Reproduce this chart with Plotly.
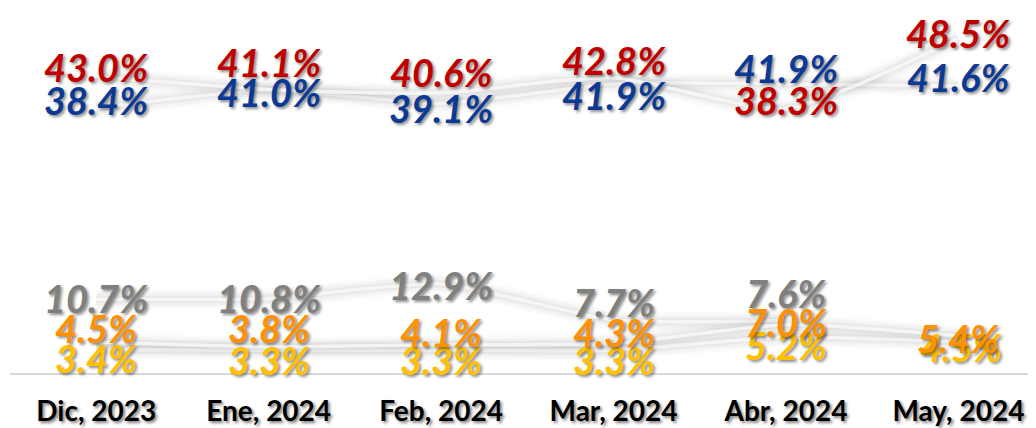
import plotly.graph_objects as go

categories = ["Dic, 2023", "Ene, 2024", "Feb, 2024", "Mar, 2024", "Abr, 2024", "May, 2024"]
red_vals = [43.0, 41.1, 40.6, 42.8, 38.3, 48.5]
blue_vals = [38.4, 41.0, 39.1, 41.9, 41.9, 41.6]
gray_vals = [10.7, 10.8, 12.9, 7.7, 7.6, None]
orange_vals = [4.5, 3.8, 4.1, 4.3, 7.0, 5.4]
yellow_vals = [3.4, 3.3, 3.3, 3.3, 5.2, 4.5]

# label placement (pixel shifts relative to the data point)
red_shift = [9, 27, 21, 18, 9, 5]
blue_shift = [8, -2, -5, -11, 16, 9]
gray_shift = [1, 0, -1, 18, 28, 0]
orange_shift = [14, 19, 13, 11, 3, -2]
yellow_shift = [-8, -10, -10, -10, -8, -5]
yellow_xshift = [0, 0, 0, 0, 0, 3]

series = [
    ("blue", blue_vals, "#0B3A96", blue_shift, None),
    ("red", red_vals, "#C00000", red_shift, None),
    ("gray", gray_vals, "#808080", gray_shift, None),
    ("yellow", yellow_vals, "#FFC000", yellow_shift, yellow_xshift),
    ("orange", orange_vals, "#FF9000", orange_shift, None),
]

fig = go.Figure()

# soft, blurred whitish lines
for name, vals, col, _, _ in series:
    for w, c in [(20, "rgba(0,0,0,0.015)"), (15, "rgba(0,0,0,0.02)"),
                 (11, "rgba(0,0,0,0.025)"), (7, "rgba(0,0,0,0.03)"),
                 (3.5, "rgba(248,248,248,0.85)")]:
        fig.add_trace(go.Scatter(
            x=categories, y=vals, mode="lines",
            line=dict(color=c, width=w, shape="spline", smoothing=0.6),
            hoverinfo="skip", showlegend=False, connectgaps=False,
        ))

label_font = dict(family="Lato", size=38, weight="bold", style="italic",
                  shadow="2px 2px 3px rgba(0,0,0,0.45)")

for name, vals, col, shifts, xs in series:
    for i, (c, v) in enumerate(zip(categories, vals)):
        if v is None:
            continue
        fig.add_annotation(
            x=c, y=v, text=f"{v:.1f}%", showarrow=False,
            xanchor="center", yanchor="middle",
            yshift=shifts[i], xshift=(xs[i] if xs else 0),
            font=dict(label_font, color=col),
        )

# page body has an 8px margin, so the figure is 8px smaller on each axis
fig.update_layout(
    width=1028, height=420,
    margin=dict(l=2, r=0, t=0, b=55),
    paper_bgcolor="white", plot_bgcolor="white",
    showlegend=False,
    xaxis=dict(
        type="category", categoryorder="array", categoryarray=categories,
        range=[-0.5, 5.45], showgrid=False, zeroline=False,
        showline=True, linecolor="#D9D9D9", linewidth=1.5,
        ticks="", ticklabelstandoff=13,
        tickfont=dict(family="Lato", size=28, weight="bold", color="black",
                      shadow="2px 2px 3px rgba(0,0,0,0.5)"),
        fixedrange=True,
    ),
    yaxis=dict(
        range=[0, 52.9], visible=False, showgrid=False, zeroline=False,
        fixedrange=True,
    ),
)

fig.write_html("out.html")
